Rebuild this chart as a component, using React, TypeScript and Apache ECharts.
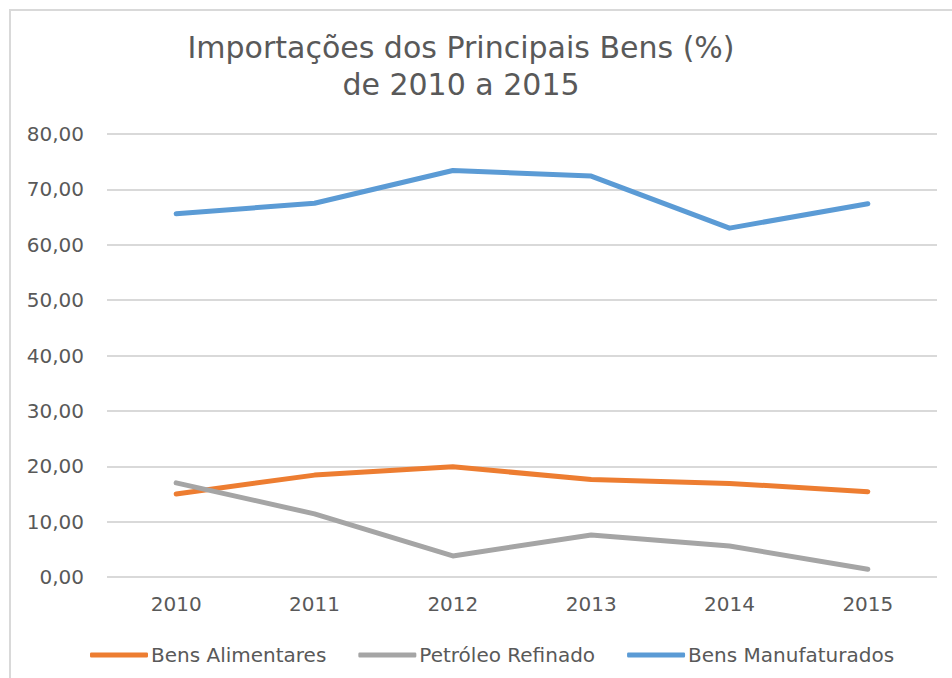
import React, { useEffect, useRef } from "react";
import * as echarts from "echarts";

const years = ["2010", "2011", "2012", "2013", "2014", "2015"];
const bensAlimentares = [15.0, 18.4, 19.9, 17.6, 16.9, 15.4];
const petroleoRefinado = [17.0, 11.4, 3.8, 7.6, 5.6, 1.4];
const bensManufaturados = [65.6, 67.5, 73.4, 72.4, 63.0, 67.4];
const seriesNames = ["Bens Alimentares", "Petróleo Refinado", "Bens Manufaturados"];
const colors = ["#ED7D31", "#A5A5A5", "#5B9BD5"];

const FONT = "'DejaVu Sans', sans-serif";
const TEXT = "#595959";

export default function App() {
  const ref = useRef<HTMLDivElement>(null);
  useEffect(() => {
    if (!ref.current) return;
    const chart = echarts.init(ref.current, null, { renderer: "svg" });
    const data = [bensAlimentares, petroleoRefinado, bensManufaturados];
    chart.setOption({
      animation: false,
      backgroundColor: "#ffffff",
      title: {
        text: "Importações dos Principais Bens (%)\nde 2010 a 2015",
        left: 456,
        top: 24,
        textAlign: "center",
        textStyle: {
          fontFamily: FONT,
          fontSize: 30,
          fontWeight: "normal",
          color: TEXT,
          lineHeight: 37,
        },
      },
      graphic: [
        {
          type: "rect",
          shape: { x: 10, y: 10, width: 960, height: 700 },
          style: { fill: "none", stroke: "#D9D9D9", lineWidth: 2 },
          silent: true,
        },
      ],
      legend: {
        left: 85,
        top: 640,
        itemWidth: 58,
        itemHeight: 5,
        itemGap: 32,
        icon: "roundRect",
        data: seriesNames,
        textStyle: { fontFamily: FONT, fontSize: 20, color: TEXT, padding: [0, 0, 0, -2] },
      },
      grid: { left: 107, right: 15, top: 134, bottom: 101, containLabel: false },
      xAxis: {
        type: "category",
        data: years,
        boundaryGap: true,
        axisLine: { show: false },
        axisTick: { show: false },
        axisLabel: { fontFamily: FONT, fontSize: 20, color: TEXT, margin: 17 },
      },
      yAxis: {
        type: "value",
        min: 0,
        max: 80,
        interval: 10,
        axisLine: { show: false },
        axisTick: { show: false },
        splitLine: { lineStyle: { color: "#D9D9D9", width: 2 } },
        axisLabel: {
          fontFamily: FONT,
          fontSize: 20,
          color: TEXT,
          margin: 23,
          formatter: (v: number) => v.toFixed(2).replace(".", ","),
        },
      },
      series: seriesNames.map((name, i) => ({
        name,
        type: "line",
        data: data[i],
        showSymbol: false,
        symbol: "none",
        color: colors[i],
        lineStyle: { width: 5, color: colors[i], cap: "round", join: "round" },
        itemStyle: { color: colors[i] },
      })),
    });
    return () => chart.dispose();
  }, []);
  return (
    <div
      ref={ref}
      style={{ position: "fixed", left: 0, top: 0, width: 952, height: 678 }}
    />
  );
}
